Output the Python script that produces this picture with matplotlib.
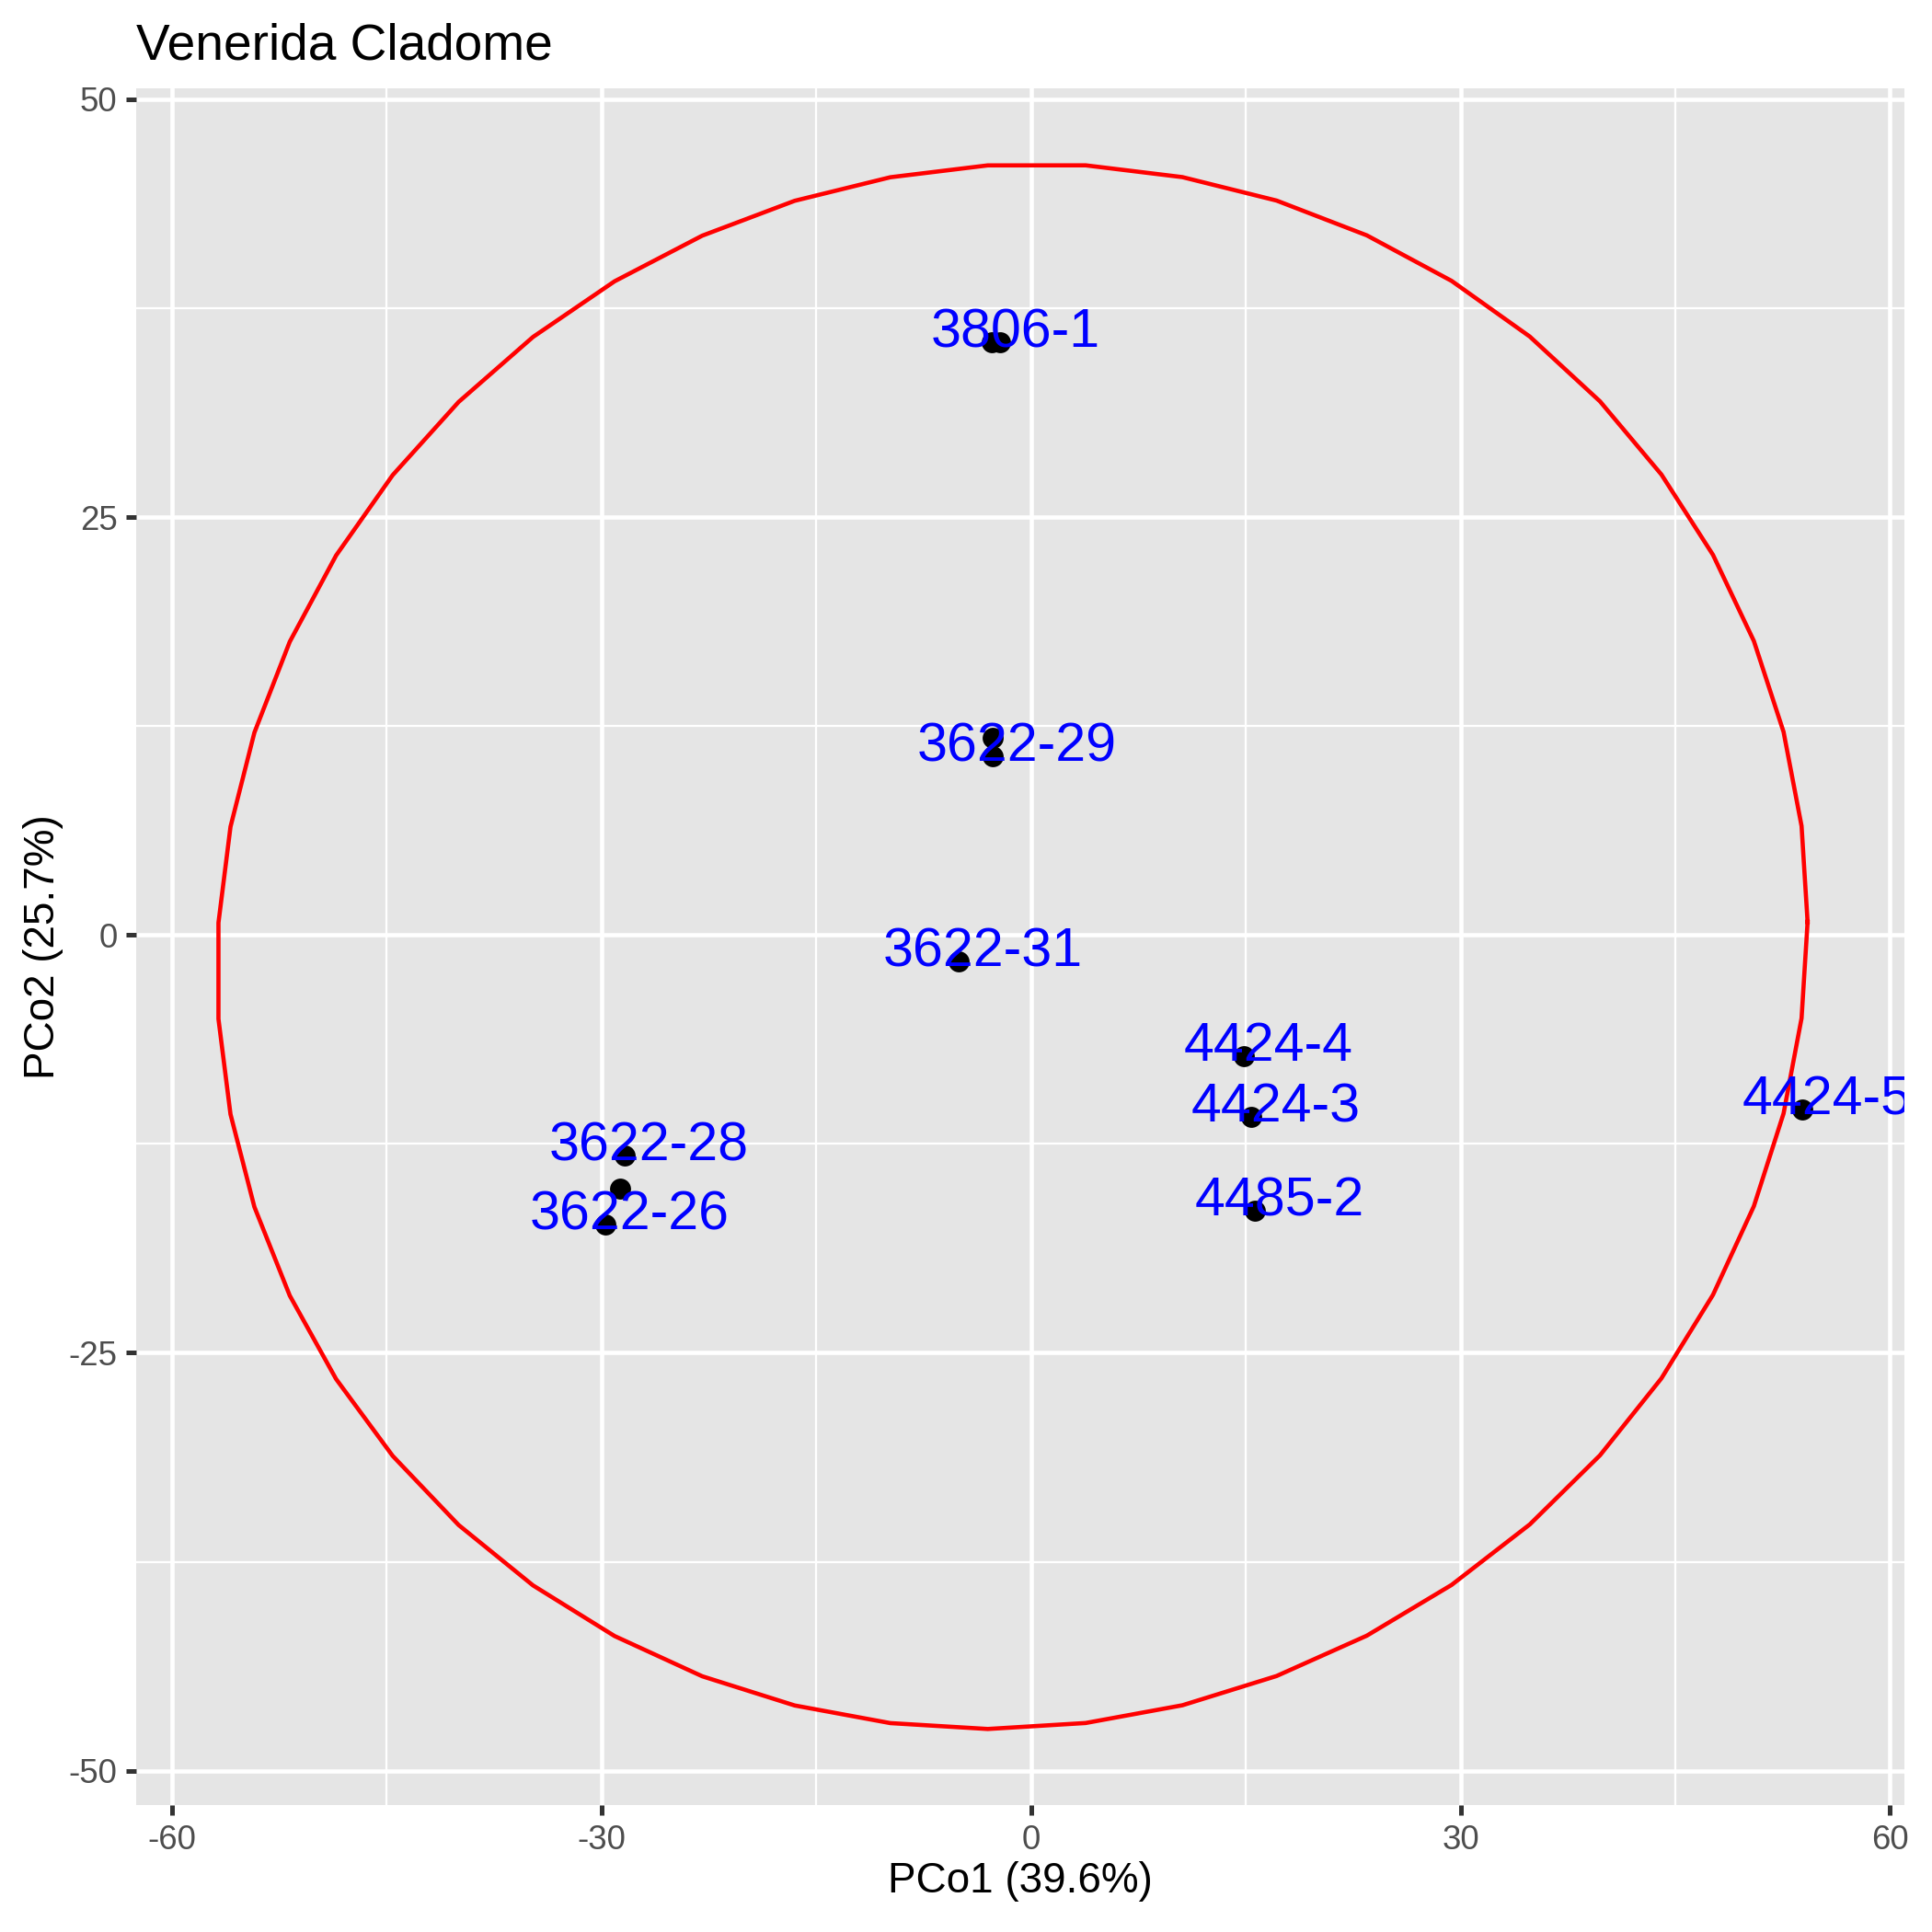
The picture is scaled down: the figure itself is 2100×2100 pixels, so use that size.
import numpy as np
import matplotlib.pyplot as plt

plt.rcParams['font.family'] = ['Liberation Sans', 'DejaVu Sans']

# sample scores on the first two principal coordinates
pco1 = [-2.75, -2.15, -2.66, -2.66, -5.07, 14.87, 15.39, 15.65, 53.9, -28.37, -28.7, -29.74]
pco2 = [35.44, 35.44, 11.82, 10.71, -1.57, -7.24, -10.91, -16.5, -10.47, -13.2, -15.2, -17.3]
# labels that ggplot kept after check_overlap, "" for the hidden ones
sample_names = ["3806-1", "", "", "3622-29", "3622-31", "4424-4", "4424-3", "4485-2",
                "4424-5", "3622-28", "", "3622-26"]

# ellipse (stat_ellipse style, 51 segments)
ell_center = (-1.31, -0.685)
ell_a = 55.55      # x half width
ell_b = 1.465      # tilt term
ell_c = 46.8       # y half height
ell_segments = 51

title = "Venerida Cladome"
xlab = "PCo1 (39.6%)"
ylab = "PCo2 (25.7%)"
xticks = [-60, -30, 0, 30, 60]
xminor = [-45, -15, 15, 45]
yticks = [-50, -25, 0, 25, 50]
yminor = [-37.5, -12.5, 12.5, 37.5]

fig = plt.figure(figsize=(7, 7), dpi=300)
ax = fig.add_axes([0.0705, 0.0657, 0.9857 - 0.0705, 0.9543 - 0.0657])
ax.set_facecolor('#E5E5E5')
for s in ax.spines.values():
    s.set_visible(False)

ax.set_xlim(-62.5, 61.0)
ax.set_ylim(-52.06, 50.66)

for v in xminor:
    ax.axvline(v, color='white', lw=0.55, zorder=0.5)
for v in yminor:
    ax.axhline(v, color='white', lw=0.55, zorder=0.5)
for v in xticks:
    ax.axvline(v, color='white', lw=1.1, zorder=0.6)
for v in yticks:
    ax.axhline(v, color='white', lw=1.1, zorder=0.6)

t = np.linspace(0, 2 * np.pi, ell_segments + 1)
ex = ell_center[0] + ell_a * np.cos(t)
ey = ell_center[1] + ell_b * np.cos(t) + ell_c * np.sin(t)
ax.plot(ex, ey, color='red', lw=1.1, zorder=2)

ax.scatter(pco1, pco2, s=30, color='black', zorder=3, linewidths=0)

for x, y, name in zip(pco1, pco2, sample_names):
    if name:
        ax.text(x + 1.68, y - 0.3, name, color='blue', fontsize=14.2,
                ha='center', va='baseline', zorder=4, clip_on=True)

ax.set_xticks(xticks)
ax.set_yticks(yticks)
ax.set_xticklabels([str(v) for v in xticks])
ax.set_yticklabels([str(v) for v in yticks])
ax.tick_params(axis='both', length=2.75, width=1.2,
               color='#333333', labelcolor='#4D4D4D', labelsize=8.8, pad=2.2)

fig.text(0.0705, 0.9695, title, fontsize=13.2, ha='left', va='baseline', color='black')
fig.text((0.0705 + 0.9857) / 2, 0.0262, xlab, fontsize=11, ha='center', va='center')
fig.text(0.0224, (0.0657 + 0.9543) / 2, ylab, fontsize=11, ha='center', va='center',
         rotation=90)

fig.savefig('out.png', dpi=300)
